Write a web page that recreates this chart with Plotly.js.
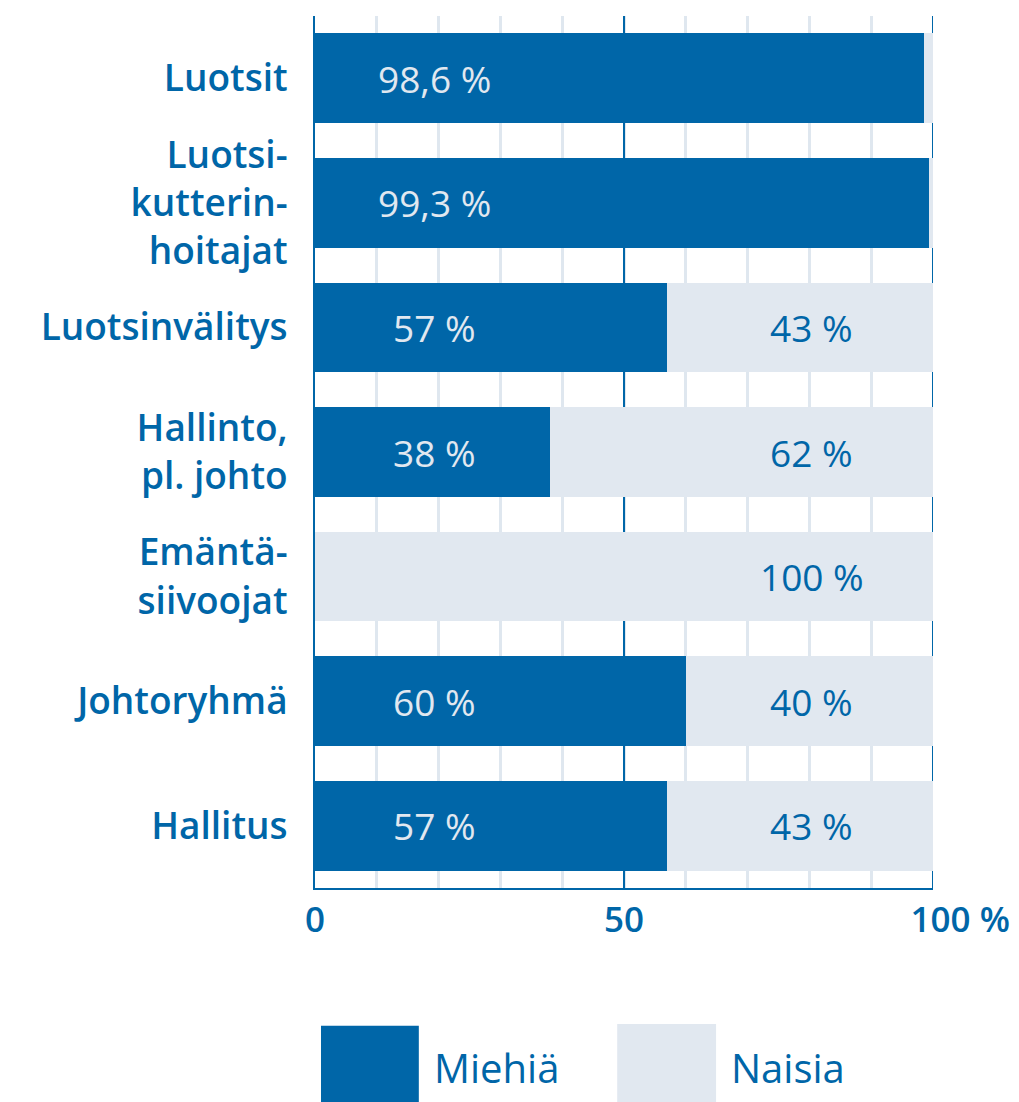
<!DOCTYPE html>
<html>
<head>
<meta charset="utf-8">
<script src="https://cdn.plot.ly/plotly-3.0.1.min.js"></script>
<style>html,body{margin:0;padding:0;background:#fff;}#chart{width:1019px;height:1102px;}</style>
</head>
<body>
<div id="chart"></div>
<script>
const categories = ["Luotsit", "Luotsi-<br>kutterin-<br>hoitajat", "Luotsinvälitys", "Hallinto,<br>pl. johto", "Emäntä-<br>siivoojat", "Johtoryhmä", "Hallitus"];
const men = [98.6, 99.3, 57, 38, 0, 60, 57];
const women = [1.4, 0.7, 43, 62, 100, 40, 43];
const seriesNames = ["Miehiä", "Naisia"];
const xTickVals = [0, 50, 100];
const xTickText = ["0", "50", "\u00a0\u00a0\u00a0\u00a0\u00a0\u00a0100 %"];

const DARK = "#0066a8";
const LIGHT = "#e1e8f0";
const FONT = "'Open Sans', 'Noto Sans', sans-serif";

function fmt(v) { return String(v).replace(".", ",") + " %"; }

const traces = [
  { type: "bar", orientation: "h", name: seriesNames[0], y: categories, x: men,
    marker: { color: DARK }, hoverinfo: "skip" },
  { type: "bar", orientation: "h", name: seriesNames[1], y: categories, x: women,
    marker: { color: LIGHT }, hoverinfo: "skip" }
];

const annotations = [];
categories.forEach((c, i) => {
  if (men[i] >= 5) annotations.push({ x: 19.3, y: c, xref: "x", yref: "y", text: fmt(men[i]),
    showarrow: false, font: { family: FONT, size: 37, color: LIGHT } });
  if (women[i] >= 5) annotations.push({ x: 80.4, y: c, xref: "x", yref: "y", text: fmt(women[i]),
    showarrow: false, font: { family: FONT, size: 37, color: DARK } });
});

// legend
const legendItems = [
  { name: seriesNames[0], color: DARK, x0: 0.0097, x1: 0.168, y1: -0.158, tx: 0.189 },
  { name: seriesNames[1], color: LIGHT, x0: 0.489, x1: 0.649, y1: -0.156, tx: 0.670 }
];
const shapes = [
  { type: "line", xref: "x", yref: "paper", x0: 100, x1: 100, y0: 0, y1: 1,
    line: { color: DARK, width: 2 }, layer: "below" }
];
legendItems.forEach(it => {
  shapes.push({ type: "rect", xref: "paper", yref: "paper", x0: it.x0, x1: it.x1, y0: -0.26, y1: it.y1,
    fillcolor: it.color, line: { width: 0 } });
  annotations.push({ xref: "paper", yref: "paper", x: it.tx, y: -0.206, xanchor: "left", yanchor: "middle",
    text: it.name, showarrow: false, font: { family: FONT, size: 40, color: DARK } });
});

const layout = {
  width: 1019, height: 1102,
  margin: { l: 315, r: 86, t: 16, b: 214 },
  paper_bgcolor: "#fff", plot_bgcolor: "#fff",
  barmode: "stack", bargap: 0.28,
  showlegend: false,
  xaxis: {
    range: [0, 100], tickvals: xTickVals, ticktext: xTickText,
    showgrid: true, gridcolor: DARK, gridwidth: 2,
    zeroline: false, showline: true, linecolor: DARK, linewidth: 2,
    ticks: "outside", ticklen: 0, tickcolor: "rgba(0,0,0,0)",
    tickfont: { family: FONT, size: 35, color: DARK, weight: 600 },
    minor: { dtick: 10, showgrid: true, gridcolor: "#dfe7ef", gridwidth: 3 },
    fixedrange: true
  },
  yaxis: {
    autorange: "reversed", range: [6.5, -0.5],
    showgrid: false, zeroline: false, showline: true, linecolor: DARK, linewidth: 2,
    ticks: "outside", ticklen: 18, tickcolor: "rgba(0,0,0,0)",
    tickfont: { family: FONT, size: 37, color: DARK, weight: 600 },
    fixedrange: true
  },
  annotations: annotations,
  shapes: shapes
};

Plotly.newPlot("chart", traces, layout, { displayModeBar: false, staticPlot: true });
</script>
</body>
</html>
